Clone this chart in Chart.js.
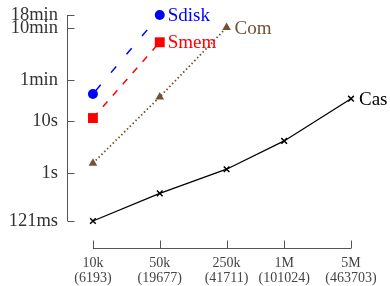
<!DOCTYPE html>
<html><head><meta charset="utf-8">
<script src="https://cdn.jsdelivr.net/npm/chart.js@4"></script>
<style>html,body{margin:0;padding:0;background:#fff}#wrap{width:390px;height:286px}</style>
</head><body><div id="wrap"><canvas id="c" width="390" height="286"></canvas></div>
<script>
// Data (seconds) against nominal size
const sizes = [1e4, 5e4, 2.5e5, 1e6, 5e6];
const sizeLabels = [["10k","(6193)"],["50k","(19677)"],["250k","(41711)"],["1M","(101024)"],["5M","(463703)"]];
const yTickValues = [0.121, 1, 10, 60, 600, 1080];
const yTickLabels = ["121ms","1s","10s","1min","10min","18min"];
const seriesNames = ["Sdisk","Smem","Com","Cas"];
const sdisk = [33, 1080];
const smem = [11.4, 324];
const com = [1.55, 29, 620];
const cas = [0.121, 0.41, 1.19, 4.15, 26.8];

const SERIF = "'Liberation Serif','DejaVu Serif',serif";
function pts(vals){ return vals.map((v,i)=>({x:sizes[i], y:v})); }

const axisPlugin = {
  id:'axes',
  afterDraw(chart){
    const ctx = chart.ctx, xs = chart.scales.x, ys = chart.scales.y;
    ctx.save();
    ctx.strokeStyle = '#555'; ctx.lineWidth = 1;
    // y axis
    const ax = Math.round(chart.chartArea.left)+0.5;
    const yTop = ys.getPixelForValue(yTickValues[yTickValues.length-1]);
    const yBot = ys.getPixelForValue(yTickValues[0]);
    ctx.beginPath(); ctx.moveTo(ax, yTop); ctx.lineTo(ax, yBot); ctx.stroke();
    yTickValues.forEach(v=>{ const p = Math.round(ys.getPixelForValue(v))+0.5; ctx.beginPath(); ctx.moveTo(ax,p); ctx.lineTo(ax+7,p); ctx.stroke(); });
    // x axis
    const ay = Math.round(chart.chartArea.bottom + 27)+0.5;
    const xL = xs.getPixelForValue(sizes[0]), xR = xs.getPixelForValue(sizes[sizes.length-1]);
    ctx.beginPath(); ctx.moveTo(xL, ay); ctx.lineTo(xR, ay); ctx.stroke();
    sizes.forEach(v=>{ const p = Math.round(xs.getPixelForValue(v))+0.5; ctx.beginPath(); ctx.moveTo(p,ay); ctx.lineTo(p,ay-8); ctx.stroke(); });
    // series end labels
    ctx.font = "19px " + SERIF;
    ctx.textBaseline = 'middle'; ctx.textAlign = 'left';
    chart.data.datasets.forEach((ds, i)=>{
      const meta = chart.getDatasetMeta(i);
      const last = meta.data[meta.data.length-1];
      ctx.fillStyle = ds.borderColor;
      ctx.fillText(ds.label, last.x + 8, last.y + 1);
    });
    ctx.restore();
  }
};

new Chart(document.getElementById('c'), {
  type:'line',
  data:{ datasets:[
    {label:seriesNames[0], data:pts(sdisk), clip:false, borderColor:'#0000ff', backgroundColor:'#0000ff', borderDash:[8,16], borderDashOffset:-4, borderWidth:1.5, pointStyle:'circle', pointRadius:5, pointBorderWidth:0},
    {label:seriesNames[1], data:pts(smem), clip:false, borderColor:'#ff0000', backgroundColor:'#ff0000', borderDash:[7,8], borderWidth:1.5, pointStyle:'rect', pointRadius:7, pointBorderWidth:0},
    {label:seriesNames[2], data:pts(com), clip:false, borderColor:'#735232', backgroundColor:'#735232', borderDash:[1.5,2.5], borderWidth:1.8, pointStyle:'triangle', pointRadius:5, pointBorderWidth:0},
    {label:seriesNames[3], data:pts(cas), clip:false, borderColor:'#000000', backgroundColor:'#000000', borderWidth:1.3, pointStyle:'crossRot', pointRadius:4, pointBorderWidth:1.5}
  ]},
  options:{
    responsive:false, animation:false,
    layout:{padding:{left:0, right:39, top:15, bottom:0}},
    plugins:{legend:{display:false}, tooltip:{enabled:false}},
    elements:{line:{tension:0}},
    scales:{
      x:{ type:'logarithmic', min:5356, max:5e6,
        grid:{display:false, drawTicks:false}, border:{display:false},
        afterBuildTicks(s){ s.ticks = sizes.map(v=>({value:v})); },
        afterFit(s){ s.height = 65; s.paddingLeft = 0; s.paddingRight = 0; },
        ticks:{ autoSkip:false, maxRotation:0, padding:35, color:'#444',
          font:{family:SERIF, size:14, lineHeight:1.08},
          callback(v){ const i = sizes.indexOf(v); return i>=0 ? sizeLabels[i] : ''; } }
      },
      y:{ type:'logarithmic', min:0.121, max:1080,
        grid:{display:false, drawTicks:false}, border:{display:false},
        afterBuildTicks(s){ s.ticks = yTickValues.map(v=>({value:v})); },
        afterFit(s){ s.width = 67; s.paddingTop = 0; s.paddingBottom = 0; },
        ticks:{ autoSkip:false, padding:9, color:'#333',
          font:{family:SERIF, size:18.5, lineHeight:1},
          callback(v){ const i = yTickValues.indexOf(v); return i>=0 ? yTickLabels[i] : ''; } }
      }
    }
  },
  plugins:[axisPlugin]
});
</script></body></html>
